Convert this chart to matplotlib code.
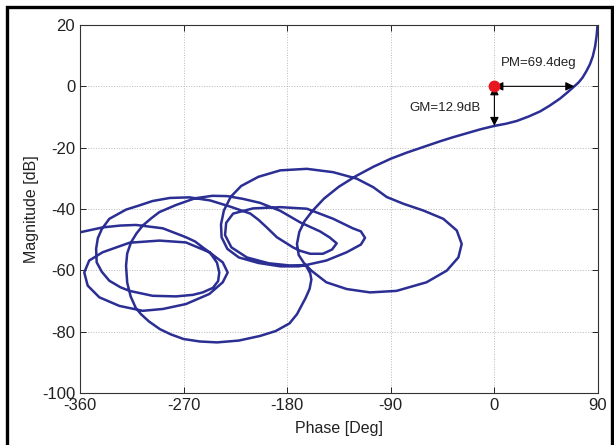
import matplotlib
matplotlib.use('Agg')
import matplotlib.pyplot as plt
from matplotlib.patches import Rectangle

# Nichols curve, ordered from low to high frequency (phase in deg, magnitude in dB)
phase = [89.6, 88.8, 87.5, 85.5, 83, 80, 76.5, 73, 69.4, 64, 57, 48, 39.6, 30, 19.4, 10, 0,
         -12, -24, -36, -47, -62, -76, -90, -105, -120,
         -135, -148, -158, -165, -169.5, -171.5, -170, -165.5,
         # big right loop
         -159, -146, -128.3, -108, -85, -59, -41.4, -31.3, -28.4, -32.7, -44.4, -61.7, -79,
         -93.5, -105.2, -119.6, -140, -163, -186, -205, -220, -229, -235, -237.5, -237, -232,
         -222, -205, -186, -170, -164,
         # inner middle loop
         -146, -128.3, -116, -112.4, -116, -123, -140, -163, -186, -209.7, -227, -233, -234,
         -228.5, -215, -196, -178, -164,
         # big lower loop
         -160, -159, -160.5, -164, -171.5, -178, -190, -203.6, -222, -241, -256, -270, -281,
         -290.5, -300, -307, -311.5, -316, -319, -320, -319, -315.7, -311, -305.5, -298, -291,
         -276.6, -260, -245, -232, -218.4, -203.6, -186, -169, -151.5, -143, -137,
         # tongue back and left loops
         -141, -149, -160, -169, -175, -189, -197.8, -205, -212, -229.7, -247, -265, -282,
         -297, -309, -320, -334.5, -341, -344.5, -346, -345.5, -341, -334.5, -325, -317, -297,
         -276.6, -262, -253.4, -244.5, -240, -239, -241, -244.7, -247.6,
         -236, -231.7, -236, -247.6, -268, -288, -305.5, -325.8, -343.2, -353.3, -356.3, -352,
         -340.3, -317, -291, -268, -247.6,
         -253.4, -260, -268, -288, -311.3, -325, -340.3, -360]
mag = [20, 16.5, 13, 9.8, 7.2, 5, 2.8, 1.2, 0, -1.8, -4, -6.3, -8.2, -9.8, -11.3, -12.2, -12.9,
       -14, -15.3, -16.6, -17.9, -19.8, -21.6, -23.6, -26.2, -29.2,
       -32.7, -36.6, -40.6, -44, -47.5, -51.4, -55, -57.6,
       -60.1, -63.9, -66.1, -67.2, -66.7, -63.9, -60.1, -55.8, -51.4, -47, -43.2, -40.5, -38.3,
       -36.1, -32.9, -30.1, -28, -26.9, -27.4, -29.5, -32.5, -36, -40.5, -45, -49.2, -53,
       -55.8, -57.6, -58.7, -58.7, -58.3,
       -56.8, -54.1, -51.6, -49.4, -47.3, -46.3, -43.2, -39.9, -39.4, -39.8, -41.5, -44.5, -48.5,
       -52.5, -55.8, -57.7, -58.4, -58.3,
       -61, -63, -66, -69, -74.3, -77.3, -79.8, -81.4, -82.9, -83.5, -83.2, -82.4, -80.9,
       -79.2, -76.7, -74.3, -72.3, -68.5, -64, -58.5, -54.5, -50.9, -48, -45.4, -43, -41,
       -38.7, -36.5, -35.7, -35.8, -36.7, -38, -40.6, -44.3, -47.3, -49.3, -51.2,
       -53.2, -54.6, -54.6, -53.6, -52.5, -49.2, -46, -43.5, -41.5, -39.2, -37.2, -36.2, -36.4,
       -37.4, -38.9, -40.2, -43.2, -46.5, -49.5, -53, -57.4, -60.5, -63.4, -65.5, -66.7, -68.3,
       -68.5, -68, -67.2, -65.7, -63.5, -60.7, -57.5, -55.5, -54.1,
       -57.4, -60.7, -63.9, -67.7, -71, -72.6, -73.2, -71.6, -68.8, -65, -60.7, -56.8,
       -54.1, -51, -50.3, -50.9, -54.1,
       -52.5, -50.6, -49.2, -46.3, -45.2, -45.4, -46, -47.6]

gm_db = 12.9
pm_deg = 69.4
xticks = [-360, -270, -180, -90, 0, 90]
yticks = [-100, -80, -60, -40, -20, 0, 20]

plt.rcParams['font.family'] = ['Liberation Sans', 'DejaVu Sans']
plt.rcParams['axes.unicode_minus'] = False
fig = plt.figure(figsize=(6.14, 4.45), dpi=100)
ax = fig.add_axes([80 / 614, 1 - 393 / 445, 518 / 614, 368 / 445])
ax.plot(phase, mag, color='#2B2E93', lw=1.8, solid_joinstyle='round', solid_capstyle='round')
ax.set_xlim(-360, 90)
ax.set_ylim(-100, 20)
ax.set_xticks(xticks)
ax.set_yticks(yticks)
ax.grid(True, ls=':', color='#b8b8b8', lw=0.7)
ax.set_axisbelow(True)
for s in ax.spines.values():
    s.set_color('#333333')
    s.set_linewidth(0.8)
ax.tick_params(direction='in', top=True, right=True, length=4, width=0.7,
               labelsize=12, colors='#222222', pad=3.5)
ax.set_xlabel('Phase [Deg]', fontsize=11.5, color='#222222', labelpad=5.5)
ax.set_ylabel('Magnitude [dB]', fontsize=11.5, color='#222222', labelpad=2)

arrow = dict(arrowstyle='<|-|>', color='black', lw=0.8, mutation_scale=13,
             shrinkA=0, shrinkB=0)
ax.annotate('', xy=(pm_deg, 0), xytext=(0, 0), arrowprops=arrow)
ax.annotate('', xy=(0, -gm_db), xytext=(0, 0), arrowprops=arrow)
ax.plot([0], [0], 'o', color='#E8161E', ms=7.5, zorder=5)
ax.text(6, 7.7, f'PM={pm_deg}deg', fontsize=9.5, va='center', color='#222222')
ax.text(-12, -7, f'GM={gm_db}dB', fontsize=9.5, ha='right', va='center', color='#222222')

fig.patches.append(Rectangle((7 / 614, -0.05), 605 / 614, 1 - 7 / 445 + 0.05,
                             transform=fig.transFigure, fill=False, lw=2.4,
                             ec='black', clip_on=False))
fig.savefig('out.png', dpi=100)
